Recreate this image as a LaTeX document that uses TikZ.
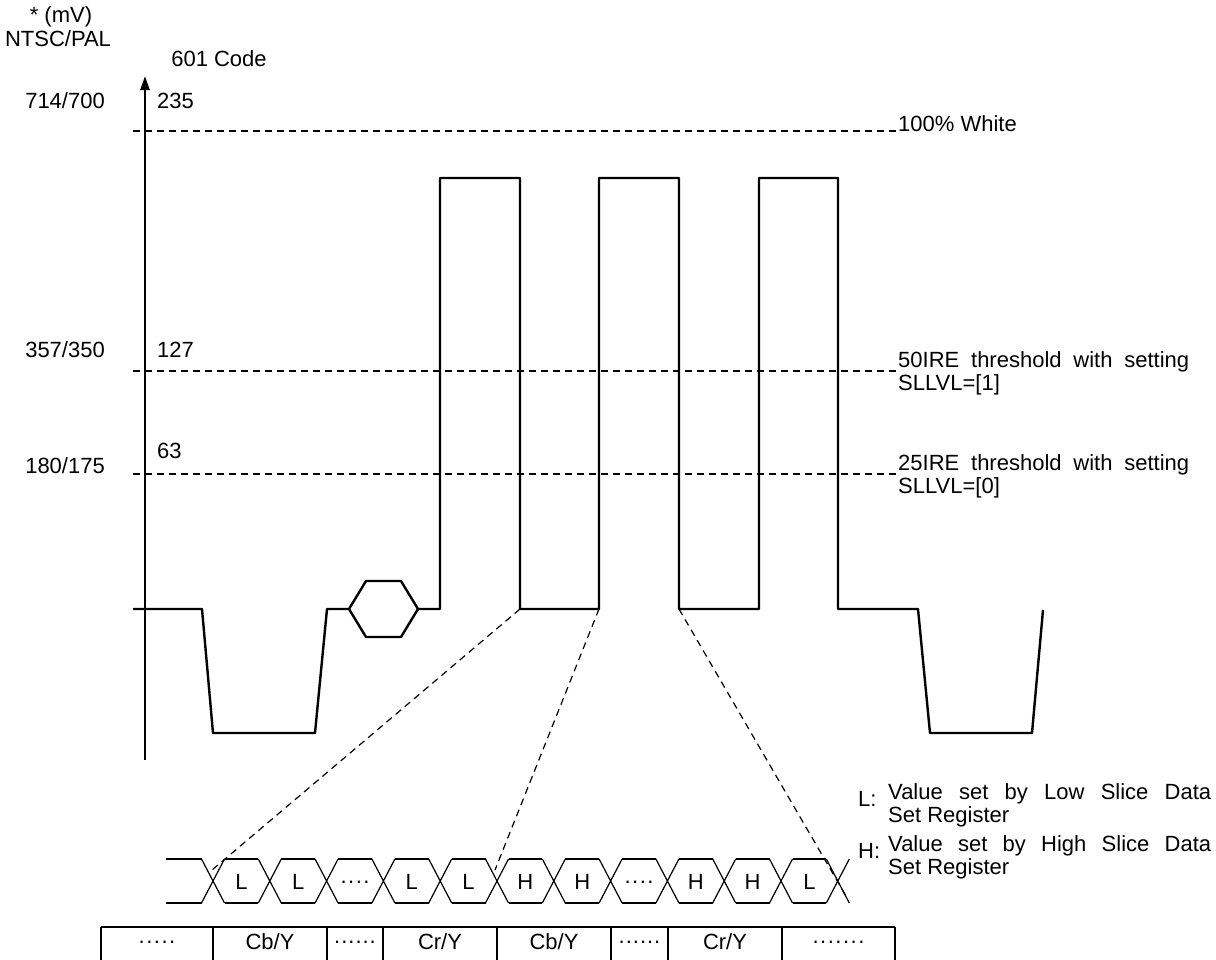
\documentclass[tikz,border=0pt]{standalone}
\usepackage{fontspec}
\setmainfont{Liberation Sans}
\usetikzlibrary{arrows.meta}
\newcommand\bitdots{.\kern1.5pt.\kern1.5pt.\kern1.5pt.}
\begin{document}
\begin{tikzpicture}[x=1pt,y=-1pt,
  txt/.style={font=\fontsize{22}{23}\selectfont,inner sep=0pt},
  note/.style={txt,text width=#1,align=justify,anchor=base west},
  wave/.style={line width=2.4pt,line join=round},
  thresh/.style={line width=1.2pt,dash pattern=on 7pt off 5pt},
  zoomline/.style={line width=1.2pt,dash pattern=on 7pt off 5pt},
  eye/.style={line width=1.2pt},
  cellbox/.style={line width=1.8pt}
]
\useasboundingbox (0,0) rectangle (1216,959);
% axis and scale labels
\draw[wave,-{Triangle[length=14pt,width=9pt]}] (145,760) -- (145,76);
\node[txt] (unit) at (61,17) {* (mV)};
\node[txt] (std) at (58,39) {NTSC/PAL};
\node[txt] (code) at (219,59) {601 Code};
\node[txt,anchor=east] (mvW) at (105,101) {714/700};
\node[txt,anchor=west] (cW) at (157,101) {235};
\node[txt,anchor=east] (mvH) at (105,350) {357/350};
\node[txt,anchor=west] (cH) at (157,350) {127};
\node[txt,anchor=east] (mvQ) at (105,466) {180/175};
\node[txt,anchor=west] (cQ) at (157,451) {63};
% threshold levels
\draw[thresh] (133,131) -- (898,131);
\draw[thresh] (133,371) -- (898,371);
\draw[thresh] (133,474) -- (898,474);
\node[txt,anchor=base west] (white) at (898,131) {100\% White};
\node[note=291pt] (half) at (898,367) {50IRE threshold with setting\linebreak SLLVL=[1]};
\node[note=291pt] (quarter) at (898,470) {25IRE threshold with setting\linebreak SLLVL=[0]};
% waveform
\draw[wave] (133,609) -- (202,609) -- (213,733) -- (315,733) -- (327,609) -- (349,609)
  -- (366,581) -- (401,581) -- (418,609) -- (401,637) -- (366,637) -- (349,609);
\draw[wave] (418,609) -- (440,609) -- (440,178) -- (520,178) -- (520,609)
  -- (599,609) -- (599,178) -- (679,178) -- (679,609)
  -- (759,609) -- (759,178) -- (838,178) -- (838,609)
  -- (918,609) -- (930,733) -- (1032,733) -- (1043,610);
\coordinate (fallA) at (520,609);
\coordinate (riseB) at (599,609);
\coordinate (fallB) at (679,609);
% sliced data bits
\draw[eye] (166,859) -- (201.5,859) (166,903) -- (201.5,903);
\foreach \k in {0,...,11}{
  \pgfmathsetmacro\c{213+56.8*\k}
  \draw[eye] (\c-11.5,859) -- (\c+11.5,903) (\c-11.5,903) -- (\c+11.5,859);
}
\foreach \k in {0,...,10}{
  \pgfmathsetmacro\c{213+56.8*\k}
  \draw[eye] (\c+11.5,859) -- (\c+45.3,859) (\c+11.5,903) -- (\c+45.3,903);
}
\foreach \t [count=\k from 0] in {L,L,\bitdots,L,L,H,H,\bitdots,H,H,L}{
  \pgfmathsetmacro\c{241.4+56.8*\k}
  \node[txt] (bit\k) at (\c,882) {\t};
}
\coordinate (eyeA) at (212,870);
\coordinate (eyeB) at (495,870);
\coordinate (eyeC) at (846,896);
\draw[zoomline] (fallA) -- (eyeA);
\draw[zoomline] (riseB) -- (eyeB);
\draw[zoomline] (fallB) -- (eyeC);
% legend
\node[txt,anchor=base west] (keyL) at (858,806) {L:};
\node[note=323pt] (keyLtxt) at (888,799) {Value set by Low Slice Data\linebreak Set Register};
\node[txt,anchor=base west] (keyH) at (858,858) {H:};
\node[note=323pt] (keyHtxt) at (888,851) {Value set by High Slice Data\linebreak Set Register};
% data word table
\begin{scope}
\clip (0,0) rectangle (1216,959);
\draw[cellbox] (101,927) -- (895,927);
\foreach \xa in {101,213,327,383,497,611,668,782,895}
  \draw[cellbox] (\xa,927) -- (\xa,970);
\end{scope}
\node[txt] (w1) at (157,942) {.\kern1.5pt.\kern1.5pt.\kern1.5pt.\kern1.5pt.};
\node[txt] (w2) at (270,942) {Cb/Y};
\node[txt] (w3) at (355,942) {.\kern1pt.\kern1pt.\kern1pt.\kern1pt.\kern1pt.};
\node[txt] (w4) at (440,942) {Cr/Y};
\node[txt] (w5) at (554,942) {Cb/Y};
\node[txt] (w6) at (639.5,942) {.\kern1pt.\kern1pt.\kern1pt.\kern1pt.\kern1pt.};
\node[txt] (w7) at (725,942) {Cr/Y};
\node[txt] (w8) at (838.5,942) {.\kern1.5pt.\kern1.5pt.\kern1.5pt.\kern1.5pt.\kern1.5pt.\kern1.5pt.};
\end{tikzpicture}
\end{document}
